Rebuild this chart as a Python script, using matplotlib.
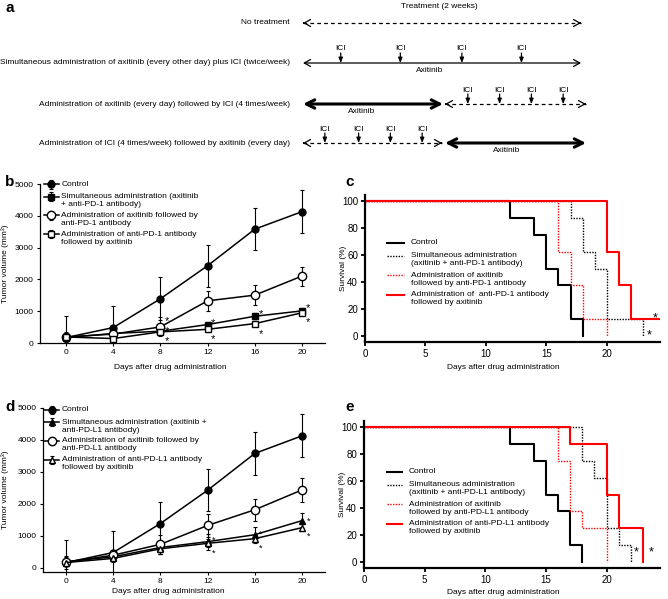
import matplotlib
matplotlib.use('Agg')
import matplotlib.pyplot as plt

plt.rcParams['font.family'] = ['Liberation Sans', 'DejaVu Sans']

# ---- panel a: schedule ----
row_labels = ['No treatment',
              'Simultaneous administration of axitinib (every other day) plus ICI (twice/week)',
              'Administration of axitinib (every day) followed by ICI (4 times/week)',
              'Administration of ICI (4 times/week) followed by axitinib (every day)']
ici_row2 = [1.9, 4.9, 8.0, 11.0]
ici_row3 = [8.3, 9.9, 11.5, 13.1]
ici_row4 = [1.1, 2.8, 4.4, 6.0]

# ---- panels b / d: tumour volume ----
days = [0, 4, 8, 12, 16, 20]
ctrl = [170, 484, 1390, 2430, 3580, 4130]
ctrl_err = [690, 675, 670, 660, 660, 670]

b_sim = [170, 300, 370, 580, 840, 1010]
b_sim_err = [80, 60, 90, 90, 100, 80]
b_axi_first = [190, 280, 505, 1326, 1505, 2105]
b_axi_first_err = [150, 100, 300, 316, 305, 300]
b_ici_first = [190, 140, 350, 430, 610, 950]
b_ici_first_err = [80, 60, 90, 80, 90, 80]
b_star_x = [8.55, 8.55, 8.55, 12.45, 12.45, 16.5, 16.5, 20.5, 20.5]
b_star_y = [790, 480, 170, 737, 232, 1010, 400, 1190, 770]

d_sim = [200, 350, 640, 823, 1040, 1480]
d_sim_err = [150, 120, 200, 250, 250, 230]
d_axi_first = [180, 400, 740, 1330, 1820, 2440]
d_axi_first_err = [200, 150, 300, 360, 340, 370]
d_ici_first = [170, 300, 600, 771, 917, 1260]
d_ici_first_err = [120, 100, 150, 120, 120, 110]
d_star_x = [12.5, 12.5, 16.45, 16.45, 20.6, 20.6]
d_star_y = [950, 540, 1140, 700, 1530, 1080]

# ---- panels c / e: survival ----
c_ctrl_t = [0, 12, 14, 15, 16, 17, 18]
c_ctrl_s = [100, 87.5, 75, 50, 37.5, 12.5, 0]
c_sim_t = [0, 17, 18, 19, 20, 23]
c_sim_s = [100, 87.5, 62.5, 50, 12.5, 0]
c_axi_t = [0, 16, 17, 18, 20]
c_axi_s = [100, 62.5, 37.5, 12.5, 0]
c_ici_t = [0, 20, 21, 22, 24.3]
c_ici_s = [100, 62.5, 37.5, 12.5, 12.5]
c_star_x = [24.0, 23.5]
c_star_y = [16, 3.7]

e_ctrl_t = c_ctrl_t
e_ctrl_s = c_ctrl_s
e_sim_t = [0, 18, 19, 20, 21, 22]
e_sim_s = [100, 75, 62.5, 25, 12.5, 0]
e_axi_t = [0, 16, 17, 18, 20]
e_axi_s = [100, 75, 37.5, 25, 0]
e_ici_t = [0, 17, 20, 21, 23]
e_ici_s = [100, 87.5, 50, 25, 0]
e_star_x = [22.4, 23.7]
e_star_y = [10.3, 10.3]

W, H = 668, 599
fig = plt.figure(figsize=(W / 100, H / 100), dpi=100)


def box(l, t, r, b):
    return [l / W, 1 - b / H, (r - l) / W, (b - t) / H]


def star(ax, x, y, size):
    # asterisk glyph centre sits ~0.57 em above the baseline
    ax.annotate('*', (x, y), xytext=(0, -0.57 * size), textcoords='offset points',
                ha='center', va='baseline', fontsize=size)


def top_align(leg):
    for col in leg._legend_handle_box.get_children():
        for item in col.get_children():
            item.align = 'top'


# ================= panel a =================
ax = fig.add_axes(box(0, 0, W, 155))
px = 19.86  # pixels per day
ax.set_xlim(-303 / px, (W - 303) / px)
ax.set_ylim(155, 0)
ax.axis('off')
rows_y = [23, 63, 104, 143]
fs = 6


def heads(x0, x1, y, lw, hl, hw):
    st = f'->,head_length={hl},head_width={hw}'
    for a, b in [(x0 + 0.05, x0), (x1 - 0.05, x1)]:
        ax.annotate('', xy=(b, y), xytext=(a, y),
                    arrowprops=dict(arrowstyle=st, lw=lw, color='black',
                                    shrinkA=0, shrinkB=0))


def dashed(x0, x1, y):
    ax.plot([x0, x1], [y, y], color='black', lw=0.9, ls=(0, (3, 2.5)))
    heads(x0, x1, y, 0.9, 0.45, 0.25)


def solid(x0, x1, y, lw, hl, hw):
    ax.annotate('', xy=(x1, y), xytext=(x0, y),
                arrowprops=dict(arrowstyle=f'<->,head_length={hl},head_width={hw}',
                                lw=lw, color='black', shrinkA=0, shrinkB=0))


def ici(xs, y):
    for x in xs:
        ax.annotate('', xy=(x, y), xytext=(x, y - 10),
                    arrowprops=dict(arrowstyle='-|>,head_length=0.3,head_width=0.12',
                                    lw=0.9, color='black', shrinkA=0, shrinkB=0))
        ax.text(x, y - 14, 'ICI', ha='center', va='center', fontsize=fs)


ax.text(6.85, 6, 'Treatment (2 weeks)', ha='center', va='center', fontsize=fs)
for lab, y in zip(row_labels, rows_y):
    ax.text(-0.65, y, lab, ha='right', va='center', fontsize=fs)

dashed(0, 14, rows_y[0])
solid(0, 14, rows_y[1], 0.9, 0.45, 0.25)
ici(ici_row2, rows_y[1])
ax.text(6.4, rows_y[1] + 7, 'Axitinib', ha='center', va='center', fontsize=fs)

solid(0, 7.05, rows_y[2], 2.2, 0.6, 0.3)
dashed(7.15, 14.25, rows_y[2])
ici(ici_row3, rows_y[2])
ax.text(2.97, rows_y[2] + 7, 'Axitinib', ha='center', va='center', fontsize=fs)

dashed(0, 7.0, rows_y[3])
solid(7.15, 14.25, rows_y[3], 2.2, 0.6, 0.3)
ici(ici_row4, rows_y[3])
ax.text(10.25, rows_y[3] + 7, 'Axitinib', ha='center', va='center', fontsize=fs)

for letter, x, y in [('a', 5, 8), ('b', 5, 182), ('c', 345, 182), ('d', 5, 407), ('e', 345, 407)]:
    fig.text(x / W, 1 - y / H, letter, fontsize=11, fontweight='bold', ha='left', va='center')


# ================= tumour panels =================
def tumour(rect, xl, yl, series, labels, stars_x, stars_y, star_fs, ylab_x, xlab, leg_anchor):
    ax = fig.add_axes(rect)
    for (y, e, m, fc, ms), lab in zip(series, labels):
        ax.errorbar(days, y, yerr=e, color='black', marker=m, mfc=fc, mec='black',
                    ms=ms, lw=1.1, elinewidth=0.8, capsize=1.5, capthick=0.8,
                    label=lab)
    for x, y in zip(stars_x, stars_y):
        star(ax, x, y, star_fs)
    ax.set_xlim(*xl)
    ax.set_ylim(*yl)
    ax.set_xticks(days)
    ax.set_yticks(range(0, 5001, 1000))
    for s in ['top', 'right']:
        ax.spines[s].set_visible(False)
    for s in ['left', 'bottom']:
        ax.spines[s].set_linewidth(0.9)
    ax.tick_params(labelsize=6, length=2.5, width=0.8, pad=2)
    ax.set_ylabel('Tumor volume (mm³)', fontsize=6)
    ax.yaxis.set_label_coords(ylab_x, 0.5)
    ax.set_xlabel('Days after drug administration', fontsize=6)
    ax.xaxis.set_label_coords(*xlab)
    leg = ax.legend(loc='upper left', bbox_to_anchor=leg_anchor, frameon=False, fontsize=6,
                    handlelength=1.8, handletextpad=0.3, labelspacing=0.45,
                    handleheight=1.2, borderaxespad=0, borderpad=0)
    top_align(leg)
    return ax


tumour(box(40, 184, 325, 343), (-2.2, 21.95), (0, 5000),
       [(ctrl, ctrl_err, 'o', 'black', 5),
        (b_sim, b_sim_err, 's', 'black', 5),
        (b_axi_first, b_axi_first_err, 'o', 'white', 6),
        (b_ici_first, b_ici_first_err, 's', 'white', 5)],
       ['Control',
        'Simultaneous administration (axitinib\n+ anti-PD-1 antibody)',
        'Administration of axitinib followed by\nanti-PD-1 antibody',
        'Administration of anti-PD-1 antibody\nfollowed by axitinib'],
       b_star_x, b_star_y, 8, -0.109, (0.456, -0.13), (0.014, 1.02))

tumour(box(43, 408, 325, 572), (-1.95, 21.95), (-125, 5000),
       [(ctrl, ctrl_err, 'o', 'black', 5),
        (d_sim, d_sim_err, '^', 'black', 5),
        (d_axi_first, d_axi_first_err, 'o', 'white', 6),
        (d_ici_first, d_ici_first_err, '^', 'white', 5)],
       ['Control',
        'Simultaneous administration (axitinib +\nanti-PD-L1 antibody)',
        'Administration of axitinib followed by\nanti-PD-L1 antibody',
        'Administration of anti-PD-L1 antibody\nfollowed by axitinib'],
       d_star_x, d_star_y, 6.5, -0.12, (0.443, -0.098), (0.004, 1.01))


# ================= survival panels =================
def survival(rect, curves, labels, stars_x, stars_y, leg_anchor, hl, xlab_y):
    ax = fig.add_axes(rect)
    styles = [dict(color='black', lw=1.5, ls='-'),
              dict(color='black', lw=1.0, ls=(0, (1, 1))),
              dict(color='red', lw=1.0, ls=(0, (1, 1))),
              dict(color='red', lw=1.5, ls='-')]
    for (t, s), st, lab in zip(curves, styles, labels):
        ax.step(t, s, where='post', label=lab, **st)
    for x, y in zip(stars_x, stars_y):
        star(ax, x, y, 9)
    ax.set_xlim(0, 24.4)
    ax.set_ylim(-4.4, 104.4)
    ax.set_xticks([0, 5, 10, 15, 20])
    ax.set_yticks(range(0, 101, 20))
    for s in ['top', 'right']:
        ax.spines[s].set_visible(False)
    for s in ['left', 'bottom']:
        ax.spines[s].set_linewidth(1.6)
    ax.tick_params(labelsize=7, length=3, width=1.3, pad=2)
    ax.set_ylabel('Survival (%)', fontsize=6)
    ax.yaxis.set_label_coords(-0.061, 0.5)
    ax.set_xlabel('Days after drug administration', fontsize=6)
    ax.xaxis.set_label_coords(0.47, xlab_y)
    leg = ax.legend(loc='upper left', bbox_to_anchor=leg_anchor, frameon=False, fontsize=6,
                    handlelength=hl, handletextpad=0.8, labelspacing=0.55,
                    handleheight=1.2, borderaxespad=0, borderpad=0)
    top_align(leg)
    return ax


survival(box(365, 195, 660, 342),
         [(c_ctrl_t, c_ctrl_s), (c_sim_t, c_sim_s), (c_axi_t, c_axi_s), (c_ici_t, c_ici_s)],
         ['Control',
          'Simultaneous administration\n(axitinib + anti-PD-1 antibody)',
          'Administration of axitinib\nfollowed by anti-PD-1 antibody',
          'Administration of  anti-PD-1 antibody\nfollowed by axitinib'],
         c_star_x, c_star_y, (0.075, 0.70), 2.05, -0.148)

survival(box(364, 421, 660, 568),
         [(e_ctrl_t, e_ctrl_s), (e_sim_t, e_sim_s), (e_axi_t, e_axi_s), (e_ici_t, e_ici_s)],
         ['Control',
          'Simultaneous administration\n(axitinib + anti-PD-L1 antibody)',
          'Administration of axitinib\nfollowed by anti-PD-L1 antibody',
          'Administration of anti-PD-L1 antibody\nfollowed by axitinib'],
         e_star_x, e_star_y, (0.078, 0.68), 1.8, -0.143)

fig.savefig('out.png', dpi=100)
